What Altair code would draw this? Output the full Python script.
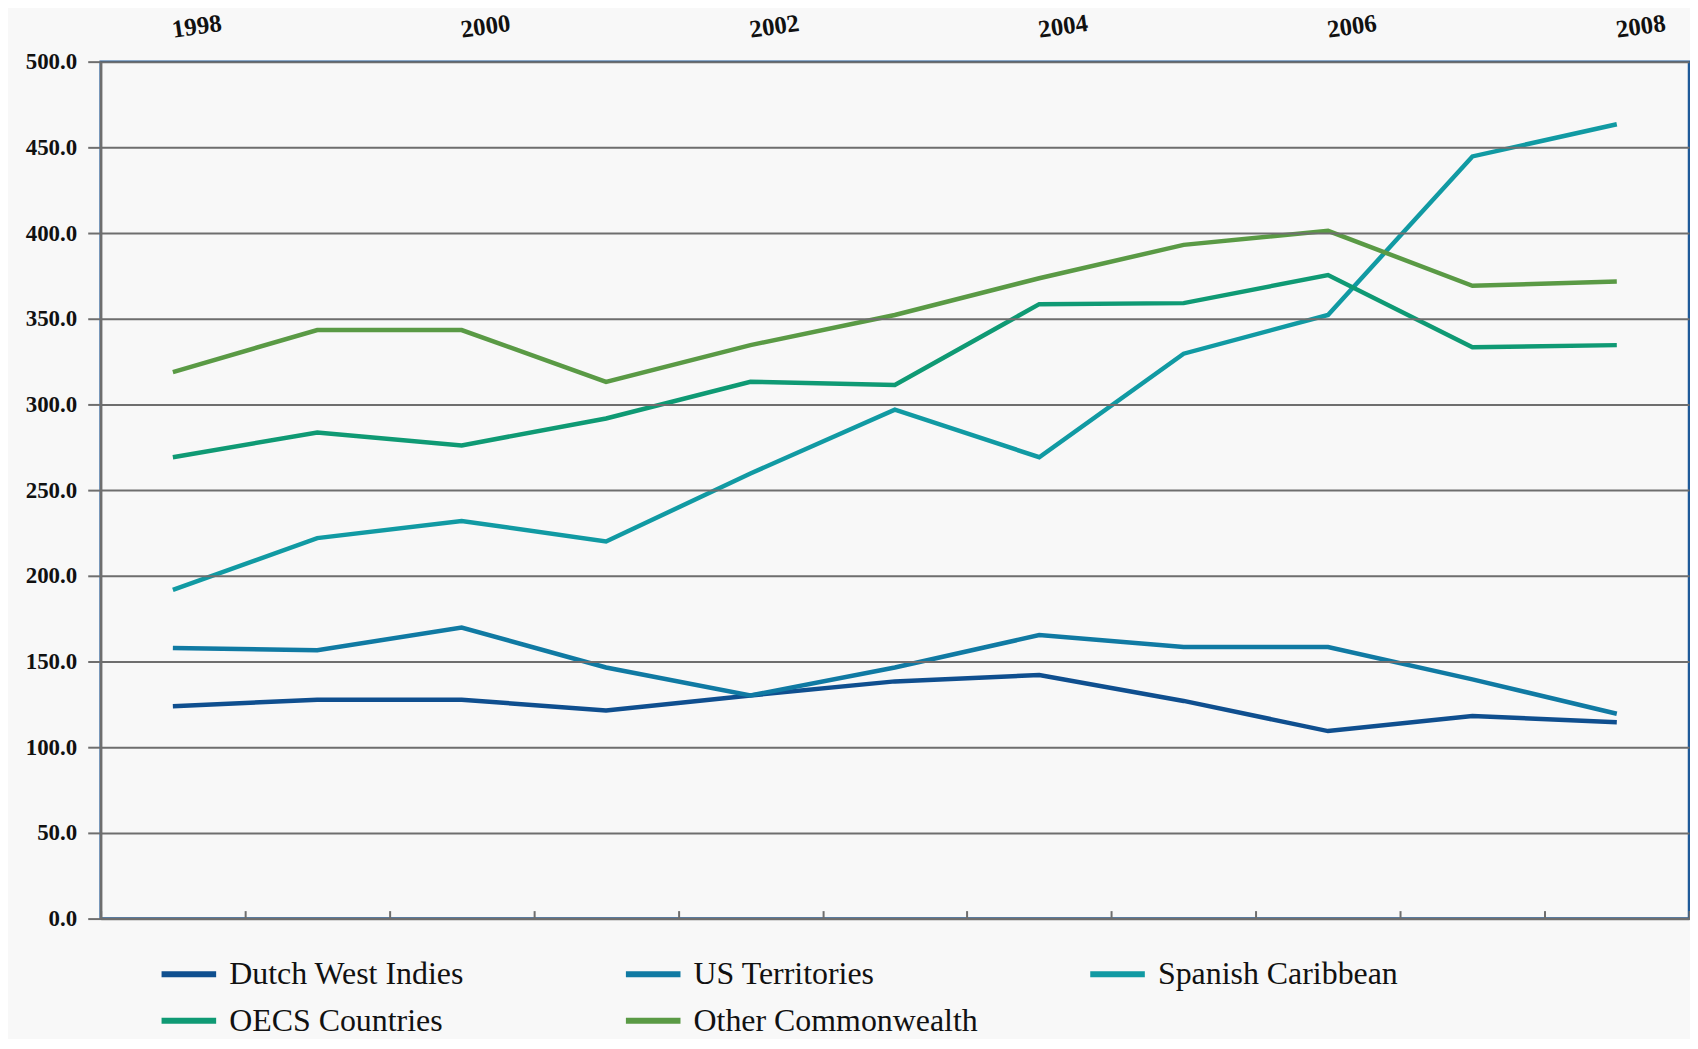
import altair as alt
import pandas as pd

years = [1998, 1999, 2000, 2001, 2002, 2003, 2004, 2005, 2006, 2007, 2008]
series_names = ["Dutch West Indies", "US Territories", "Spanish Caribbean",
                "OECS Countries", "Other Commonwealth"]
dutch = [123.9, 127.7, 127.7, 121.4, 130.2, 138.4, 142.1, 127.0, 109.4, 118.2, 114.5]
us = [157.9, 156.6, 169.8, 146.5, 130.2, 146.5, 165.4, 158.5, 158.5, 139.6, 119.5]
spanish = [191.8, 222.0, 232.0, 220.0, 259.7, 296.9, 269.2, 329.6, 352.2, 444.7, 463.5]
oecs = [269.2, 283.6, 276.1, 291.8, 313.2, 311.3, 358.5, 359.1, 375.5, 333.3, 334.6]
other = [318.9, 343.4, 343.4, 313.2, 334.6, 352.2, 373.6, 393.1, 401.3, 369.2, 371.7]
colors = ["#0f4f8f", "#107aa3", "#119aa3", "#0f9a74", "#5a9a45"]
y_ticks = [0, 50, 100, 150, 200, 250, 300, 350, 400, 450, 500]

rows = []
for name, vals in zip(series_names, [dutch, us, spanish, oecs, other]):
    for yr, v in zip(years, vals):
        rows.append({"Year": yr, "Series": name, "Value": v})
df = pd.DataFrame(rows)

W, H = 1594, 860
GRAY = "#6e6e6e"
SERIF = "Liberation Serif"

x_scale = alt.Scale(paddingInner=0, paddingOuter=0)
y_scale = alt.Scale(domain=[0, 500], nice=False)

lines = alt.Chart(df).mark_line(strokeWidth=4.5).encode(
    x=alt.X("Year:O", scale=x_scale, sort=years,
            axis=alt.Axis(orient="top", offset=-H, title=None, labels=False,
                          domain=True, domainColor=GRAY, domainWidth=2.5,
                          ticks=True, tickBand="extent", tickColor=GRAY,
                          tickWidth=2, tickSize=8, grid=False, zindex=2)),
    y=alt.Y("Value:Q", scale=y_scale,
            axis=alt.Axis(values=y_ticks, format=".1f", title=None,
                          labelFont=SERIF, labelFontSize=23, labelFontWeight="bold",
                          labelColor="#111111", labelPadding=11,
                          tickSize=13, tickColor=GRAY, tickWidth=2,
                          domainColor=GRAY, domainWidth=2.5,
                          grid=True, gridColor=GRAY, gridWidth=2, zindex=1)),
    color=alt.Color("Series:N", sort=series_names,
                    scale=alt.Scale(domain=series_names, range=colors),
                    legend=alt.Legend(orient="none", legendX=58, legendY=885,
                                      direction="horizontal", columns=3,
                                      gridAlign="all", columnPadding=100,
                                      rowPadding=-13, title=None,
                                      symbolType="stroke", symbolSize=3000,
                                      symbolStrokeWidth=6, labelOffset=10,
                                      labelFont=SERIF, labelFontSize=32,
                                      labelColor="#111111", labelLimit=600)),
    order=alt.Order("Year:O"),
)

labels = alt.Chart(df).mark_line(opacity=0).encode(
    x=alt.X("Year:O", scale=x_scale, sort=years,
            axis=alt.Axis(orient="bottom", offset=-(H + 36), title=None,
                          domain=False, ticks=False, grid=False,
                          labelExpr="datum.value % 2 == 0 ? datum.label : ''",
                          labelAngle=-8, labelAlign="center",
                          labelBaseline="middle", labelPadding=0, labelOffset=24,
                          labelFont=SERIF, labelFontSize=25,
                          labelFontWeight="bold", labelColor="#111111")),
    y=alt.Y("Value:Q", scale=y_scale),
    detail="Series:N",
)

chart = alt.layer(lines, labels).resolve_axis(x="independent").properties(
    width=W, height=H,
    background="#f8f8f8",
    padding={"left": 93, "top": 52, "right": 1, "bottom": 119},
    autosize=alt.AutoSizeParams(type="none"),
).configure_view(
    stroke="#1f5a99", strokeWidth=2.5, fill="#f8f8f8"
)

chart.save("out.html", embed_options={"renderer": "svg", "actions": False})
